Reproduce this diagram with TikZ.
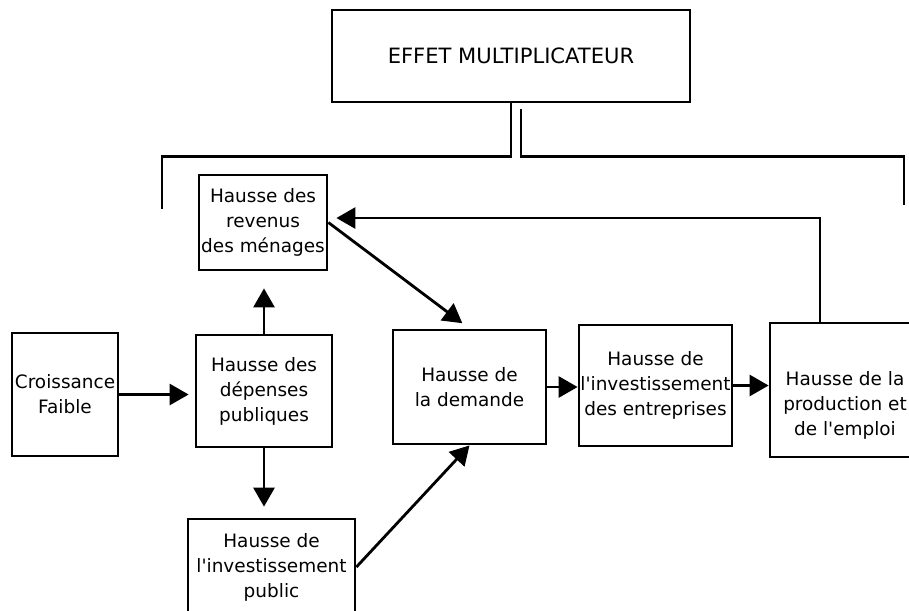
\documentclass[tikz,border=0pt]{standalone}
\usepackage{fontspec}
\setmainfont{DejaVu Sans}
\usepackage{tikz}
\usetikzlibrary{arrows.meta, positioning}

\begin{document}
\begin{tikzpicture}[x=0.02cm, y=-0.02cm,
    etape/.style={draw, line width=1.6pt, align=center, inner sep=0pt,
      font=\fontsize{10.5}{14.2}\selectfont},
    texte/.style={align=center, inner sep=0pt, font=\fontsize{10.5}{14.2}\selectfont},
    fleche/.style={line width=1.6pt, -{Triangle[length=0.38cm, width=0.42cm]}},
    trait/.style={line width=1.6pt}]
      \useasboundingbox (0,0) rectangle (909,610);
      % boites
      \node[etape, minimum width=7.16cm, minimum height=1.84cm, font=\fontsize{12}{14.2}\selectfont] (effet) at (511,56) {EFFET MULTIPLICATEUR};
      \node[etape, minimum width=2.56cm, minimum height=1.9cm] (revenus) at (263,222.5) {Hausse des\\revenus\\des ménages};
      \node[etape, minimum width=2.72cm, minimum height=2.24cm] (depenses) at (264,391) {Hausse des\\dépenses\\publiques};
      \node[etape, minimum width=2.12cm, minimum height=2.46cm] (croissance) at (65,394.5) {Croissance\\Faible};
      \node[etape, minimum width=3.06cm, minimum height=2.28cm] (demande) at (469.5,387) {Hausse de\\la demande};
      \node[etape, minimum width=3.06cm, minimum height=2.42cm] (entreprises) at (655.5,385.5) {Hausse de\\l\textquotesingle investissement\\des entreprises};
      \node[etape, minimum width=3.0cm, minimum height=2.68cm] (production) at (845,390) {};
      \node[texte] (productiontxt) at (845,405) {Hausse de la\\production et\\de l\textquotesingle emploi};
      \node[etape, minimum width=3.34cm, minimum height=1.92cm] (public) at (271.5,567) {Hausse de\\l\textquotesingle investissement\\public};
      % accolade de l'effet multiplicateur
      \coordinate (piedg) at (162,209);
      \coordinate (piedd) at (904,205);
      \draw[trait] (effet.south) -- ++(0,53) -| (piedg);
      \draw[trait] ([xshift=0.2cm, yshift=-0.12cm]effet.south) -- ++(0,47) -| (piedd);
      % fleches
      \draw[fleche, shorten >=0.12cm] (croissance.east) -- (croissance.east -| depenses.west);
      \draw[fleche, shorten >=0.34cm] (depenses.north) -- (depenses.north |- revenus.south);
      \draw[fleche, shorten >=0.22cm] (depenses.south) -- (depenses.south |- public.north);
      \draw[fleche, shorten >=0.18cm] (revenus.east) -- (demande.north);
      \draw[fleche] (public.east) -- (demande.south);
      \draw[fleche] (demande.east) -- (demande.east -| entreprises.west);
      \draw[fleche] (entreprises.east) -- (entreprises.east -| production.west);
      \draw[fleche, shorten >=0.16cm] ([xshift=-0.5cm]production.north) |- ([yshift=0.09cm]revenus.east);
    \end{tikzpicture}
\end{document}
